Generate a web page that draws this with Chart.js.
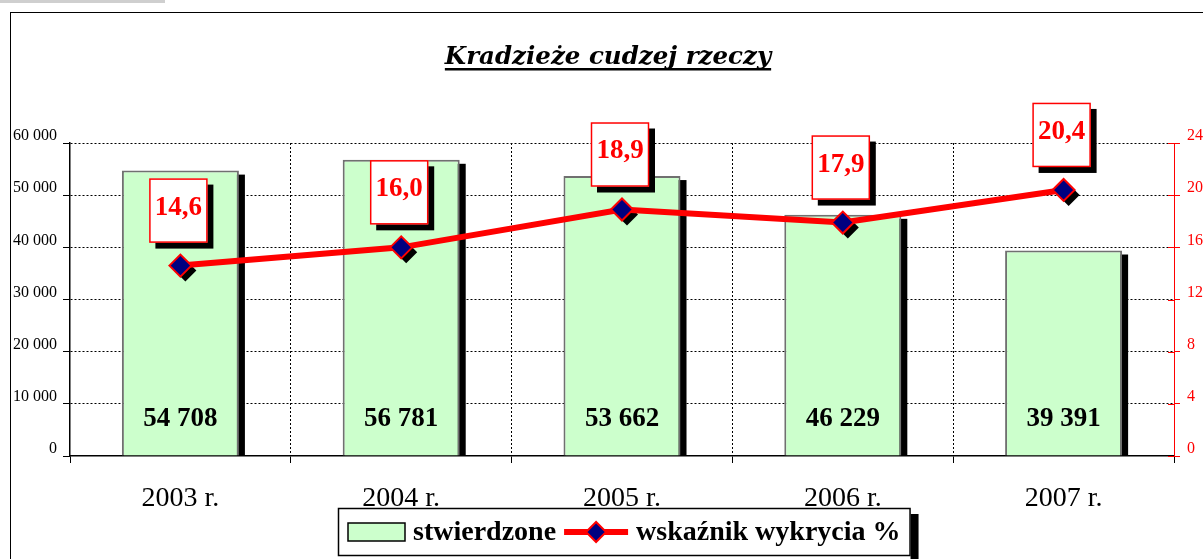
<!DOCTYPE html>
<html>
<head>
<meta charset="utf-8">
<script src="https://cdn.jsdelivr.net/npm/chart.js@4.4.1/dist/chart.umd.min.js"></script>
<style>
  html, body { margin: 0; padding: 0; background: #fff; }
  #wrap { width: 1203px; height: 559px; position: relative; }
</style>
</head>
<body>
<div id="wrap"><canvas id="c" width="1203" height="559"></canvas></div>
<script>
const chartTitle = 'Kradzieże cudzej rzeczy';
const categories = ['2003 r.', '2004 r.', '2005 r.', '2006 r.', '2007 r.'];
const stwierdzone = [54708, 56781, 53662, 46229, 39391];
const wskaznik = [14.6, 16.0, 18.9, 17.9, 20.4];
const leftTickLabels = ['0', '10 000', '20 000', '30 000', '40 000', '50 000', '60 000'];
const rightTickLabels = ['0', '4', '8', '12', '16', '20', '24'];
const seriesNames = ['stwierdzone', 'wskaźnik wykrycia %'];

const SERIF = '"Liberation Serif", "DejaVu Serif", serif';
const fmtThousands = v => String(v).replace(/\B(?=(\d{3})+(?!\d))/g, ' ');
const fmtPct = v => v.toFixed(1).replace('.', ',');

function diamond(ctx, x, y, r) {
  ctx.beginPath();
  ctx.moveTo(x - r, y); ctx.lineTo(x, y - r); ctx.lineTo(x + r, y); ctx.lineTo(x, y + r);
  ctx.closePath();
}

const decorPlugin = {
  id: 'decor',
  beforeDraw(chart) {
    const ctx = chart.ctx;
    ctx.save();
    ctx.fillStyle = '#fff';
    ctx.fillRect(0, 0, chart.width, chart.height);
    ctx.fillStyle = '#cfcfcf';
    ctx.fillRect(0, 0, 165, 3);
    ctx.strokeStyle = '#000';
    ctx.lineWidth = 1;
    ctx.strokeRect(10.5, 12.5, 1400, 700);
    // title
    ctx.font = 'italic bold 24.5px "DejaVu Serif", serif';
    ctx.fillStyle = '#000';
    ctx.textAlign = 'center';
    ctx.textBaseline = 'alphabetic';
    const cx = 608;
    ctx.fillText(chartTitle, cx, 64);
    const tw = ctx.measureText(chartTitle).width;
    ctx.fillRect(cx - tw / 2, 68, tw, 2.5);
    ctx.restore();
  },
  beforeDatasetDraw(chart, args) {
    const ctx = chart.ctx;
    const meta = args.meta;
    ctx.save();
    ctx.fillStyle = '#000';
    if (meta.type === 'bar') {
      meta.data.forEach(b => {
        const p = b.getProps(['x', 'y', 'width', 'base'], true);
        const left = p.x - p.width / 2 + 6;
        ctx.fillRect(left, p.y + 4, p.width, p.base - p.y - 4);
      });
    } else if (meta.type === 'line') {
      meta.data.forEach(pt => {
        diamond(ctx, pt.x + 5, pt.y + 5, 11);
        ctx.fill();
      });
    }
    ctx.restore();
  },
  afterDatasetsDraw(chart) {
    const ctx = chart.ctx;
    const yL = chart.scales.y;
    ctx.save();
    // bar value labels
    const barMeta = chart.getDatasetMeta(0);
    ctx.font = 'bold 27px ' + SERIF;
    ctx.fillStyle = '#000';
    ctx.textAlign = 'center';
    ctx.textBaseline = 'middle';
    barMeta.data.forEach((b, i) => {
      ctx.fillText(fmtThousands(stwierdzone[i]), b.x, yL.getPixelForValue(0) - 37);
    });
    // line value boxes
    const lineMeta = chart.getDatasetMeta(1);
    lineMeta.data.forEach((pt, i) => {
      const w = 58, h = 64;
      const bx = pt.x - 2 - w / 2;
      const by = pt.y - 23 - h;
      ctx.fillStyle = '#000';
      ctx.fillRect(bx + 6, by + 6, w, h);
      ctx.fillStyle = '#fff';
      ctx.fillRect(bx, by, w, h);
      ctx.strokeStyle = '#ff0000';
      ctx.lineWidth = 1.5;
      ctx.strokeRect(bx + 0.5, by + 0.5, w - 1, h - 1);
      ctx.fillStyle = '#ff0000';
      ctx.font = 'bold 27px ' + SERIF;
      ctx.fillText(fmtPct(wskaznik[i]), bx + w / 2, by + h / 2 - 3);
    });
    ctx.restore();
  },
  afterDraw(chart) {
    const ctx = chart.ctx;
    const yR = chart.scales.y1;
    ctx.save();
    // inner half of the right-axis ticks
    ctx.strokeStyle = '#ff0000';
    ctx.lineWidth = 1;
    yR.ticks.forEach(t => {
      const py = Math.round(yR.getPixelForValue(t.value)) + 0.5;
      ctx.beginPath();
      ctx.moveTo(yR.left - 6, py);
      ctx.lineTo(yR.left, py);
      ctx.stroke();
    });
    // legend
    const top = 508, h = 48, left = 338;
    const midY = top + h / 2;
    ctx.font = 'bold 28px ' + SERIF;
    let x = left + 10;
    const items = [];
    items.push({ kind: 'bar', x: x }); x += 57 + 8;
    items.push({ kind: 'text', x: x, t: seriesNames[0] }); x += ctx.measureText(seriesNames[0]).width + 8;
    items.push({ kind: 'line', x: x }); x += 64 + 8;
    items.push({ kind: 'text', x: x, t: seriesNames[1] }); x += ctx.measureText(seriesNames[1]).width + 10;
    const right = x;
    ctx.fillStyle = '#000';
    ctx.fillRect(right, top + 6, 8, h + 10);
    ctx.fillStyle = '#fff';
    ctx.fillRect(left, top, right - left, h);
    ctx.strokeStyle = '#000';
    ctx.lineWidth = 1.5;
    ctx.strokeRect(left + 0.5, top + 0.5, right - left - 1, h - 1);
    items.forEach(it => {
      if (it.kind === 'bar') {
        ctx.fillStyle = '#ccffcc';
        ctx.fillRect(it.x, midY - 9, 57, 18);
        ctx.strokeStyle = '#000';
        ctx.lineWidth = 1.5;
        ctx.strokeRect(it.x, midY - 9, 57, 18);
      } else if (it.kind === 'line') {
        ctx.strokeStyle = '#ff0000';
        ctx.lineWidth = 6;
        ctx.beginPath();
        ctx.moveTo(it.x, midY); ctx.lineTo(it.x + 64, midY);
        ctx.stroke();
        diamond(ctx, it.x + 32, midY, 10);
        ctx.fillStyle = '#000080';
        ctx.fill();
        ctx.strokeStyle = '#ff0000';
        ctx.lineWidth = 2;
        ctx.stroke();
      } else {
        ctx.fillStyle = '#000';
        ctx.textAlign = 'left';
        ctx.textBaseline = 'middle';
        ctx.fillText(it.t, it.x, midY + 1);
      }
    });
    ctx.restore();
  }
};

new Chart(document.getElementById('c'), {
  data: {
    labels: categories,
    datasets: [
      {
        type: 'bar',
        label: seriesNames[0],
        data: stwierdzone,
        yAxisID: 'y',
        backgroundColor: '#ccffcc',
        borderColor: '#707070',
        borderWidth: 2,
        categoryPercentage: 1,
        barPercentage: 0.53,
        order: 2
      },
      {
        type: 'line',
        label: seriesNames[1],
        data: wskaznik,
        yAxisID: 'y1',
        borderColor: '#ff0000',
        borderWidth: 6,
        tension: 0,
        pointStyle: 'rectRot',
        pointRadius: 11,
        pointHoverRadius: 11,
        pointBackgroundColor: '#000080',
        pointBorderColor: '#ff0000',
        pointBorderWidth: 2,
        order: 1
      }
    ]
  },
  options: {
    responsive: false,
    devicePixelRatio: 1,
    animation: false,
    layout: { padding: { top: 143, left: 0, right: 0, bottom: 0 } },
    plugins: { legend: { display: false }, title: { display: false }, tooltip: { enabled: false } },
    scales: {
      x: {
        offset: true,
        afterFit: s => { s.height = 103; },
        grid: {
          offset: true,
          color: c => (c.index === 0 || c.index === categories.length) ? 'rgba(0,0,0,0)' : '#000',
          tickColor: '#000',
          lineWidth: 1,
          tickLength: 7
        },
        border: { display: true, color: '#000', width: 1.5, dash: [2, 2] },
        ticks: { color: '#000', font: { family: SERIF, size: 28 }, padding: 19 }
      },
      y: {
        position: 'left',
        min: 0, max: 60000,
        afterFit: s => { s.width = 70; },
        ticks: {
          stepSize: 10000,
          color: '#000',
          font: { family: SERIF, size: 16 },
          padding: 6,
          labelOffset: -7,
          callback: (v, i) => leftTickLabels[i]
        },
        grid: {
          color: c => (c.tick && c.tick.value === 0) ? 'rgba(0,0,0,0)' : '#000',
          tickColor: '#000',
          lineWidth: 1,
          tickLength: 7
        },
        border: { display: true, color: '#000', width: 1.5, dash: [2, 2] }
      },
      y1: {
        position: 'right',
        min: 0, max: 24,
        afterFit: s => { s.width = 29; },
        ticks: {
          stepSize: 4,
          color: '#ff0000',
          font: { family: SERIF, size: 16 },
          padding: 7,
          labelOffset: -7,
          callback: (v, i) => rightTickLabels[i]
        },
        grid: { drawOnChartArea: false, tickColor: '#ff0000', tickLength: 6 },
        border: { display: true, color: '#ff0000', width: 1 }
      }
    }
  },
  plugins: [decorPlugin]
});
</script>
</body>
</html>
